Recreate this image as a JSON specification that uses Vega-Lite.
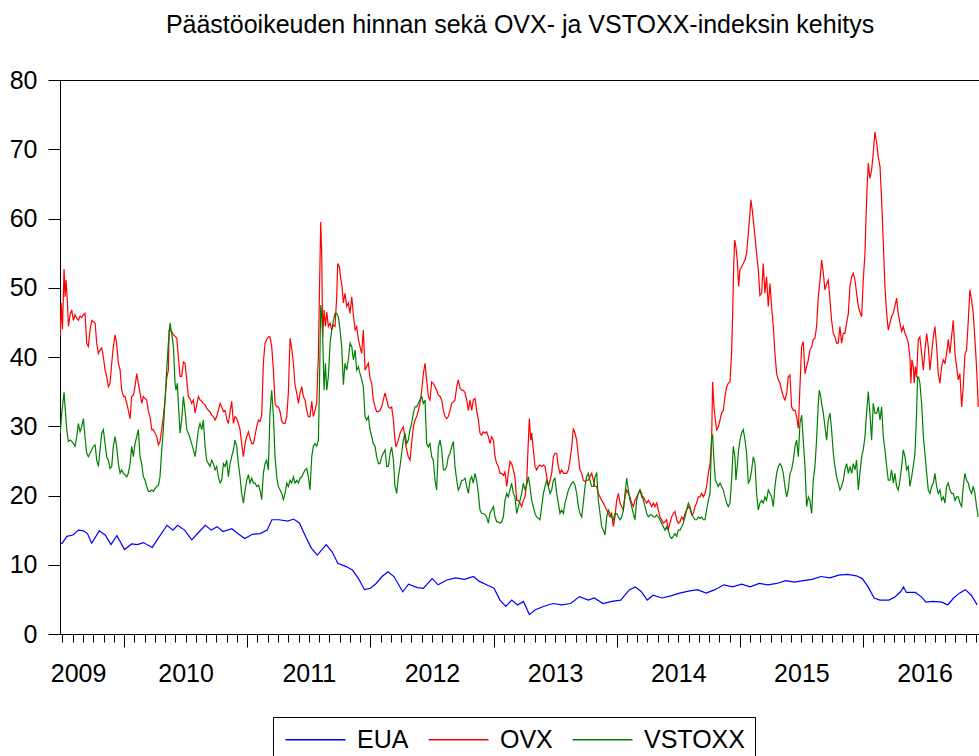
{
  "$schema": "https://vega.github.io/schema/vega-lite/v6.json",
  "width": 920,
  "height": 554,
  "autosize": "none",
  "padding": {"left": 60, "top": 80, "right": 0, "bottom": 122},
  "background": "white",
  "config": {
    "view": {"stroke": "black", "strokeWidth": 1},
    "font": "Liberation Sans",
    "axis": {"labelFont": "Liberation Sans", "labelColor": "black", "tickColor": "black", "domainColor": "black", "grid": false, "tickWidth": 1}
  },
  "title": {"text": "Päästöoikeuden hinnan sekä OVX- ja VSTOXX-indeksin kehitys", "fontSize": 25, "font": "Liberation Sans", "fontWeight": "normal", "color": "black", "anchor": "middle", "frame": "group", "baseline": "alphabetic", "offset": 10},
  "datasets": {
    "eua": [
      {"year":2009.482,"value":13.1},{"year":2009.497,"value":13.1},{"year":2009.536,"value":14.1},{"year":2009.584,"value":14.3},{"year":2009.631,"value":15.0},{"year":2009.670,"value":14.9},{"year":2009.703,"value":14.5},{"year":2009.737,"value":13.1},{"year":2009.799,"value":14.9},{"year":2009.847,"value":14.3},{"year":2009.894,"value":12.9},{"year":2009.942,"value":14.2},{"year":2010.004,"value":12.2},{"year":2010.062,"value":13.0},{"year":2010.110,"value":12.9},{"year":2010.157,"value":13.2},{"year":2010.229,"value":12.5},{"year":2010.277,"value":13.8},{"year":2010.349,"value":15.7},{"year":2010.397,"value":15.0},{"year":2010.435,"value":15.7},{"year":2010.492,"value":15.0},{"year":2010.550,"value":13.6},{"year":2010.612,"value":14.8},{"year":2010.660,"value":15.7},{"year":2010.708,"value":15.0},{"year":2010.756,"value":15.5},{"year":2010.803,"value":14.8},{"year":2010.875,"value":15.2},{"year":2010.923,"value":14.5},{"year":2010.980,"value":13.8},{"year":2011.043,"value":14.4},{"year":2011.105,"value":14.5},{"year":2011.162,"value":15.0},{"year":2011.200,"value":16.5},{"year":2011.258,"value":16.5},{"year":2011.330,"value":16.3},{"year":2011.377,"value":16.6},{"year":2011.425,"value":16.0},{"year":2011.473,"value":14.1},{"year":2011.521,"value":12.4},{"year":2011.569,"value":11.4},{"year":2011.641,"value":12.9},{"year":2011.688,"value":11.9},{"year":2011.736,"value":10.2},{"year":2011.808,"value":9.7},{"year":2011.856,"value":9.2},{"year":2011.904,"value":8.0},{"year":2011.952,"value":6.4},{"year":2012.000,"value":6.6},{"year":2012.047,"value":7.3},{"year":2012.095,"value":8.3},{"year":2012.143,"value":9.0},{"year":2012.191,"value":8.3},{"year":2012.263,"value":6.1},{"year":2012.310,"value":7.2},{"year":2012.382,"value":6.7},{"year":2012.430,"value":6.6},{"year":2012.502,"value":8.0},{"year":2012.550,"value":7.1},{"year":2012.621,"value":7.8},{"year":2012.693,"value":8.1},{"year":2012.765,"value":7.9},{"year":2012.837,"value":8.3},{"year":2012.885,"value":7.6},{"year":2012.956,"value":7.0},{"year":2013.004,"value":6.6},{"year":2013.052,"value":4.9},{"year":2013.100,"value":4.0},{"year":2013.148,"value":4.9},{"year":2013.195,"value":4.2},{"year":2013.243,"value":4.7},{"year":2013.291,"value":2.8},{"year":2013.339,"value":3.5},{"year":2013.411,"value":4.0},{"year":2013.483,"value":4.4},{"year":2013.554,"value":4.2},{"year":2013.626,"value":4.4},{"year":2013.698,"value":5.4},{"year":2013.770,"value":4.9},{"year":2013.818,"value":5.2},{"year":2013.889,"value":4.4},{"year":2013.961,"value":4.7},{"year":2014.033,"value":4.9},{"year":2014.104,"value":6.4},{"year":2014.152,"value":6.8},{"year":2014.200,"value":6.1},{"year":2014.248,"value":4.9},{"year":2014.296,"value":5.6},{"year":2014.368,"value":5.2},{"year":2014.439,"value":5.5},{"year":2014.511,"value":5.9},{"year":2014.583,"value":6.2},{"year":2014.655,"value":6.4},{"year":2014.726,"value":5.9},{"year":2014.798,"value":6.4},{"year":2014.870,"value":7.1},{"year":2014.942,"value":6.8},{"year":2015.013,"value":7.2},{"year":2015.085,"value":6.8},{"year":2015.157,"value":7.3},{"year":2015.229,"value":7.1},{"year":2015.300,"value":7.3},{"year":2015.372,"value":7.7},{"year":2015.444,"value":7.5},{"year":2015.516,"value":7.7},{"year":2015.587,"value":7.9},{"year":2015.659,"value":8.3},{"year":2015.731,"value":8.1},{"year":2015.803,"value":8.5},{"year":2015.874,"value":8.6},{"year":2015.946,"value":8.4},{"year":2015.994,"value":8.0},{"year":2016.042,"value":6.8},{"year":2016.090,"value":5.2},{"year":2016.137,"value":4.9},{"year":2016.209,"value":4.9},{"year":2016.257,"value":5.3},{"year":2016.305,"value":6.1},{"year":2016.329,"value":6.8},{"year":2016.353,"value":6.0},{"year":2016.424,"value":6.0},{"year":2016.472,"value":5.4},{"year":2016.511,"value":4.6},{"year":2016.568,"value":4.7},{"year":2016.640,"value":4.6},{"year":2016.688,"value":4.2},{"year":2016.736,"value":5.2},{"year":2016.783,"value":5.9},{"year":2016.831,"value":6.4},{"year":2016.879,"value":5.6},{"year":2016.927,"value":4.2}
    ],
    "ovx": [
      {"year":2009.482,"value":43.0},{"year":2009.490,"value":47.8},{"year":2009.500,"value":44.0},{"year":2009.513,"value":52.7},{"year":2009.521,"value":48.7},{"year":2009.529,"value":51.1},{"year":2009.540,"value":48.0},{"year":2009.548,"value":44.4},{"year":2009.562,"value":46.1},{"year":2009.575,"value":46.8},{"year":2009.589,"value":45.3},{"year":2009.602,"value":46.1},{"year":2009.616,"value":45.6},{"year":2009.629,"value":45.3},{"year":2009.643,"value":45.9},{"year":2009.656,"value":45.7},{"year":2009.670,"value":46.1},{"year":2009.683,"value":46.3},{"year":2009.697,"value":42.0},{"year":2009.710,"value":41.5},{"year":2009.724,"value":43.9},{"year":2009.738,"value":45.3},{"year":2009.751,"value":45.1},{"year":2009.765,"value":44.9},{"year":2009.778,"value":42.0},{"year":2009.792,"value":40.5},{"year":2009.805,"value":41.0},{"year":2009.819,"value":41.3},{"year":2009.832,"value":40.0},{"year":2009.846,"value":38.1},{"year":2009.859,"value":37.2},{"year":2009.873,"value":35.7},{"year":2009.886,"value":36.2},{"year":2009.900,"value":39.1},{"year":2009.913,"value":41.5},{"year":2009.927,"value":43.2},{"year":2009.940,"value":42.0},{"year":2009.954,"value":39.1},{"year":2009.968,"value":38.1},{"year":2009.981,"value":35.2},{"year":2009.995,"value":34.3},{"year":2010.008,"value":34.3},{"year":2010.022,"value":33.3},{"year":2010.035,"value":32.3},{"year":2010.049,"value":31.1},{"year":2010.062,"value":34.3},{"year":2010.076,"value":34.5},{"year":2010.089,"value":35.7},{"year":2010.103,"value":37.6},{"year":2010.116,"value":36.2},{"year":2010.130,"value":34.8},{"year":2010.143,"value":33.3},{"year":2010.157,"value":34.3},{"year":2010.171,"value":34.0},{"year":2010.184,"value":33.8},{"year":2010.198,"value":32.1},{"year":2010.211,"value":31.4},{"year":2010.225,"value":29.5},{"year":2010.238,"value":29.5},{"year":2010.252,"value":29.0},{"year":2010.265,"value":28.5},{"year":2010.279,"value":27.3},{"year":2010.292,"value":27.8},{"year":2010.306,"value":29.5},{"year":2010.319,"value":31.4},{"year":2010.333,"value":33.8},{"year":2010.346,"value":36.9},{"year":2010.360,"value":38.1},{"year":2010.366,"value":43.9},{"year":2010.387,"value":43.7},{"year":2010.401,"value":43.2},{"year":2010.414,"value":43.0},{"year":2010.428,"value":42.7},{"year":2010.441,"value":40.0},{"year":2010.455,"value":37.2},{"year":2010.468,"value":37.2},{"year":2010.482,"value":39.3},{"year":2010.495,"value":39.1},{"year":2010.509,"value":36.7},{"year":2010.522,"value":34.3},{"year":2010.536,"value":34.0},{"year":2010.549,"value":33.3},{"year":2010.563,"value":33.8},{"year":2010.577,"value":31.9},{"year":2010.590,"value":33.1},{"year":2010.604,"value":34.3},{"year":2010.617,"value":33.8},{"year":2010.631,"value":33.6},{"year":2010.644,"value":33.3},{"year":2010.658,"value":33.1},{"year":2010.671,"value":32.6},{"year":2010.685,"value":32.3},{"year":2010.698,"value":32.1},{"year":2010.712,"value":31.6},{"year":2010.725,"value":31.4},{"year":2010.739,"value":30.9},{"year":2010.752,"value":31.4},{"year":2010.766,"value":32.3},{"year":2010.780,"value":33.3},{"year":2010.793,"value":32.8},{"year":2010.807,"value":32.1},{"year":2010.820,"value":32.3},{"year":2010.834,"value":31.1},{"year":2010.847,"value":30.4},{"year":2010.861,"value":32.1},{"year":2010.874,"value":33.6},{"year":2010.888,"value":30.4},{"year":2010.901,"value":31.4},{"year":2010.915,"value":31.1},{"year":2010.928,"value":30.4},{"year":2010.942,"value":29.5},{"year":2010.955,"value":27.5},{"year":2010.969,"value":25.6},{"year":2010.983,"value":27.5},{"year":2010.996,"value":28.5},{"year":2011.010,"value":29.2},{"year":2011.023,"value":28.3},{"year":2011.037,"value":27.5},{"year":2011.050,"value":27.5},{"year":2011.064,"value":28.7},{"year":2011.077,"value":29.9},{"year":2011.091,"value":30.9},{"year":2011.104,"value":30.7},{"year":2011.118,"value":31.6},{"year":2011.131,"value":39.1},{"year":2011.145,"value":42.0},{"year":2011.158,"value":42.5},{"year":2011.172,"value":42.9},{"year":2011.185,"value":42.9},{"year":2011.199,"value":41.5},{"year":2011.213,"value":38.1},{"year":2011.226,"value":33.3},{"year":2011.240,"value":32.8},{"year":2011.253,"value":32.8},{"year":2011.267,"value":32.1},{"year":2011.280,"value":30.7},{"year":2011.294,"value":30.4},{"year":2011.307,"value":30.4},{"year":2011.321,"value":31.4},{"year":2011.334,"value":34.8},{"year":2011.348,"value":42.7},{"year":2011.361,"value":41.3},{"year":2011.375,"value":39.1},{"year":2011.388,"value":36.0},{"year":2011.402,"value":34.8},{"year":2011.416,"value":33.3},{"year":2011.429,"value":34.8},{"year":2011.443,"value":35.7},{"year":2011.456,"value":34.3},{"year":2011.470,"value":33.8},{"year":2011.483,"value":32.3},{"year":2011.497,"value":31.4},{"year":2011.510,"value":31.4},{"year":2011.524,"value":33.6},{"year":2011.537,"value":31.4},{"year":2011.551,"value":32.3},{"year":2011.564,"value":33.3},{"year":2011.578,"value":40.3},{"year":2011.586,"value":48.7},{"year":2011.597,"value":59.5},{"year":2011.605,"value":55.0},{"year":2011.613,"value":42.9},{"year":2011.624,"value":46.8},{"year":2011.635,"value":44.4},{"year":2011.646,"value":46.5},{"year":2011.659,"value":44.4},{"year":2011.673,"value":44.9},{"year":2011.686,"value":43.9},{"year":2011.700,"value":44.6},{"year":2011.713,"value":44.4},{"year":2011.727,"value":48.7},{"year":2011.735,"value":53.5},{"year":2011.749,"value":53.0},{"year":2011.759,"value":51.4},{"year":2011.770,"value":50.2},{"year":2011.781,"value":47.8},{"year":2011.794,"value":49.2},{"year":2011.808,"value":47.3},{"year":2011.821,"value":47.8},{"year":2011.835,"value":46.3},{"year":2011.849,"value":48.7},{"year":2011.862,"value":46.1},{"year":2011.876,"value":43.9},{"year":2011.889,"value":44.4},{"year":2011.903,"value":42.5},{"year":2011.916,"value":41.5},{"year":2011.930,"value":40.5},{"year":2011.943,"value":43.9},{"year":2011.957,"value":38.1},{"year":2011.970,"value":38.6},{"year":2011.984,"value":39.1},{"year":2011.997,"value":36.9},{"year":2012.011,"value":36.2},{"year":2012.024,"value":33.8},{"year":2012.038,"value":32.8},{"year":2012.051,"value":32.1},{"year":2012.065,"value":32.1},
      {"year":2012.078,"value":32.3},{"year":2012.092,"value":32.8},{"year":2012.105,"value":33.8},{"year":2012.119,"value":34.8},{"year":2012.133,"value":33.8},{"year":2012.146,"value":32.8},{"year":2012.160,"value":32.6},{"year":2012.173,"value":32.8},{"year":2012.187,"value":30.9},{"year":2012.200,"value":28.0},{"year":2012.208,"value":27.0},{"year":2012.227,"value":28.0},{"year":2012.241,"value":29.0},{"year":2012.254,"value":29.5},{"year":2012.268,"value":29.9},{"year":2012.276,"value":29.0},{"year":2012.290,"value":27.0},{"year":2012.308,"value":25.6},{"year":2012.322,"value":25.1},{"year":2012.335,"value":27.5},{"year":2012.349,"value":29.9},{"year":2012.363,"value":30.9},{"year":2012.376,"value":31.4},{"year":2012.390,"value":32.3},{"year":2012.403,"value":33.3},{"year":2012.417,"value":35.2},{"year":2012.430,"value":37.6},{"year":2012.444,"value":39.1},{"year":2012.457,"value":36.7},{"year":2012.471,"value":34.3},{"year":2012.484,"value":33.8},{"year":2012.498,"value":36.4},{"year":2012.511,"value":36.2},{"year":2012.525,"value":35.7},{"year":2012.538,"value":35.2},{"year":2012.552,"value":34.5},{"year":2012.566,"value":34.3},{"year":2012.579,"value":33.8},{"year":2012.593,"value":32.3},{"year":2012.606,"value":31.4},{"year":2012.620,"value":31.1},{"year":2012.633,"value":31.4},{"year":2012.647,"value":32.3},{"year":2012.660,"value":33.3},{"year":2012.674,"value":33.5},{"year":2012.687,"value":33.8},{"year":2012.701,"value":35.7},{"year":2012.714,"value":36.7},{"year":2012.728,"value":35.5},{"year":2012.741,"value":35.2},{"year":2012.755,"value":35.2},{"year":2012.769,"value":34.8},{"year":2012.782,"value":33.8},{"year":2012.796,"value":32.3},{"year":2012.809,"value":33.8},{"year":2012.823,"value":32.3},{"year":2012.836,"value":33.8},{"year":2012.850,"value":34.0},{"year":2012.863,"value":32.3},{"year":2012.877,"value":30.9},{"year":2012.890,"value":29.0},{"year":2012.904,"value":28.7},{"year":2012.917,"value":29.2},{"year":2012.931,"value":29.0},{"year":2012.944,"value":29.2},{"year":2012.958,"value":28.5},{"year":2012.971,"value":27.5},{"year":2012.985,"value":28.5},{"year":2012.999,"value":28.0},{"year":2013.012,"value":25.6},{"year":2013.026,"value":24.6},{"year":2013.039,"value":24.2},{"year":2013.053,"value":23.2},{"year":2013.066,"value":23.2},{"year":2013.080,"value":22.9},{"year":2013.093,"value":23.4},{"year":2013.107,"value":21.3},{"year":2013.120,"value":23.2},{"year":2013.134,"value":24.9},{"year":2013.147,"value":24.6},{"year":2013.161,"value":23.7},{"year":2013.174,"value":22.7},{"year":2013.188,"value":19.3},{"year":2013.202,"value":19.3},{"year":2013.215,"value":18.9},{"year":2013.229,"value":18.4},{"year":2013.242,"value":19.3},{"year":2013.256,"value":19.8},{"year":2013.269,"value":21.8},{"year":2013.283,"value":28.0},{"year":2013.291,"value":31.1},{"year":2013.302,"value":28.0},{"year":2013.310,"value":29.0},{"year":2013.323,"value":26.6},{"year":2013.337,"value":24.2},{"year":2013.350,"value":23.7},{"year":2013.364,"value":24.2},{"year":2013.377,"value":24.4},{"year":2013.391,"value":24.2},{"year":2013.405,"value":24.4},{"year":2013.418,"value":24.2},{"year":2013.432,"value":22.7},{"year":2013.445,"value":21.3},{"year":2013.459,"value":22.2},{"year":2013.472,"value":23.2},{"year":2013.486,"value":25.6},{"year":2013.499,"value":26.1},{"year":2013.513,"value":26.1},{"year":2013.526,"value":24.2},{"year":2013.540,"value":23.2},{"year":2013.553,"value":23.7},{"year":2013.567,"value":23.2},{"year":2013.580,"value":23.2},{"year":2013.594,"value":23.2},{"year":2013.608,"value":23.7},{"year":2013.621,"value":25.1},{"year":2013.635,"value":27.0},{"year":2013.648,"value":29.7},{"year":2013.662,"value":29.0},{"year":2013.675,"value":28.0},{"year":2013.689,"value":25.6},{"year":2013.702,"value":23.7},{"year":2013.716,"value":23.2},{"year":2013.729,"value":22.2},{"year":2013.743,"value":22.0},{"year":2013.756,"value":22.2},{"year":2013.770,"value":22.2},{"year":2013.783,"value":22.7},{"year":2013.797,"value":23.2},{"year":2013.811,"value":22.2},{"year":2013.824,"value":21.3},{"year":2013.838,"value":21.3},{"year":2013.851,"value":20.3},{"year":2013.865,"value":19.8},{"year":2013.878,"value":19.3},{"year":2013.892,"value":18.9},{"year":2013.905,"value":18.4},{"year":2013.919,"value":17.9},{"year":2013.932,"value":17.4},{"year":2013.946,"value":16.9},{"year":2013.959,"value":17.4},{"year":2013.973,"value":15.5},{"year":2013.986,"value":16.9},{"year":2014.000,"value":19.3},{"year":2014.014,"value":20.3},{"year":2014.027,"value":18.9},{"year":2014.041,"value":18.4},{"year":2014.054,"value":17.9},{"year":2014.068,"value":19.8},{"year":2014.081,"value":20.8},{"year":2014.095,"value":20.3},{"year":2014.108,"value":19.8},{"year":2014.122,"value":18.9},{"year":2014.135,"value":18.4},{"year":2014.149,"value":19.3},{"year":2014.162,"value":19.8},{"year":2014.176,"value":20.3},{"year":2014.189,"value":20.8},{"year":2014.203,"value":19.8},{"year":2014.216,"value":19.8},{"year":2014.230,"value":19.3},{"year":2014.244,"value":18.9},{"year":2014.257,"value":19.3},{"year":2014.271,"value":18.9},{"year":2014.284,"value":18.4},{"year":2014.298,"value":18.9},{"year":2014.311,"value":18.4},{"year":2014.325,"value":18.9},{"year":2014.338,"value":17.9},{"year":2014.352,"value":16.9},{"year":2014.365,"value":16.5},{"year":2014.379,"value":16.0},{"year":2014.392,"value":16.2},{"year":2014.406,"value":16.5},{"year":2014.419,"value":15.0},{"year":2014.433,"value":16.0},{"year":2014.446,"value":16.9},{"year":2014.460,"value":17.4},{"year":2014.473,"value":17.7},{"year":2014.487,"value":16.5},{"year":2014.501,"value":16.0},{"year":2014.514,"value":16.2},{"year":2014.528,"value":16.9},{"year":2014.541,"value":16.5},{"year":2014.555,"value":17.4},{"year":2014.568,"value":17.9},{"year":2014.582,"value":18.4},{"year":2014.595,"value":18.1},{"year":2014.609,"value":17.2},{"year":2014.622,"value":17.4},{"year":2014.636,"value":18.4},{"year":2014.649,"value":18.9},{"year":2014.663,"value":19.8},{"year":2014.676,"value":19.8},{"year":2014.690,"value":20.3},{"year":2014.703,"value":19.8},{"year":2014.717,"value":20.3},{"year":2014.730,"value":21.3},{"year":2014.744,"value":23.2},{"year":2014.758,"value":24.6},
      {"year":2014.771,"value":28.0},{"year":2014.779,"value":36.4},{"year":2014.790,"value":32.8},{"year":2014.801,"value":30.9},{"year":2014.812,"value":29.5},{"year":2014.825,"value":29.9},{"year":2014.839,"value":30.9},{"year":2014.852,"value":31.9},{"year":2014.866,"value":32.3},{"year":2014.879,"value":34.3},{"year":2014.893,"value":35.7},{"year":2014.906,"value":36.2},{"year":2014.920,"value":36.4},{"year":2014.933,"value":40.5},{"year":2014.941,"value":45.8},{"year":2014.950,"value":53.0},{"year":2014.958,"value":56.9},{"year":2014.968,"value":55.9},{"year":2014.979,"value":54.0},{"year":2014.990,"value":50.2},{"year":2015.001,"value":52.6},{"year":2015.014,"value":53.0},{"year":2015.028,"value":53.5},{"year":2015.042,"value":54.0},{"year":2015.055,"value":55.0},{"year":2015.069,"value":57.9},{"year":2015.082,"value":60.7},{"year":2015.090,"value":62.7},{"year":2015.101,"value":61.2},{"year":2015.109,"value":59.8},{"year":2015.123,"value":57.4},{"year":2015.136,"value":55.0},{"year":2015.150,"value":52.6},{"year":2015.163,"value":48.9},{"year":2015.177,"value":49.2},{"year":2015.190,"value":53.5},{"year":2015.204,"value":49.2},{"year":2015.217,"value":51.6},{"year":2015.231,"value":47.3},{"year":2015.245,"value":50.6},{"year":2015.258,"value":47.3},{"year":2015.272,"value":44.4},{"year":2015.285,"value":40.5},{"year":2015.299,"value":37.6},{"year":2015.312,"value":36.7},{"year":2015.326,"value":36.2},{"year":2015.339,"value":35.2},{"year":2015.353,"value":34.3},{"year":2015.366,"value":33.8},{"year":2015.380,"value":34.7},{"year":2015.393,"value":37.1},{"year":2015.407,"value":37.4},{"year":2015.420,"value":32.8},{"year":2015.434,"value":32.3},{"year":2015.448,"value":32.3},{"year":2015.461,"value":31.4},{"year":2015.475,"value":29.7},{"year":2015.488,"value":35.7},{"year":2015.502,"value":41.5},{"year":2015.515,"value":42.2},{"year":2015.529,"value":37.6},{"year":2015.542,"value":38.6},{"year":2015.556,"value":39.6},{"year":2015.569,"value":41.0},{"year":2015.583,"value":41.5},{"year":2015.596,"value":42.5},{"year":2015.610,"value":42.7},{"year":2015.623,"value":44.4},{"year":2015.637,"value":48.7},{"year":2015.651,"value":51.1},{"year":2015.664,"value":54.0},{"year":2015.678,"value":52.1},{"year":2015.691,"value":49.7},{"year":2015.705,"value":50.6},{"year":2015.718,"value":51.1},{"year":2015.732,"value":48.2},{"year":2015.745,"value":45.3},{"year":2015.759,"value":43.4},{"year":2015.772,"value":42.9},{"year":2015.786,"value":42.0},{"year":2015.799,"value":42.0},{"year":2015.813,"value":44.4},{"year":2015.826,"value":42.0},{"year":2015.840,"value":43.4},{"year":2015.853,"value":43.4},{"year":2015.867,"value":44.9},{"year":2015.881,"value":46.3},{"year":2015.894,"value":50.2},{"year":2015.908,"value":51.6},{"year":2015.921,"value":52.1},{"year":2015.935,"value":51.1},{"year":2015.948,"value":49.2},{"year":2015.962,"value":47.3},{"year":2015.975,"value":46.5},{"year":2015.989,"value":45.8},{"year":2016.002,"value":51.1},{"year":2016.016,"value":55.0},{"year":2016.024,"value":59.8},{"year":2016.032,"value":64.1},{"year":2016.043,"value":68.0},{"year":2016.056,"value":65.8},{"year":2016.070,"value":67.0},{"year":2016.083,"value":69.4},{"year":2016.097,"value":72.5},{"year":2016.111,"value":70.9},{"year":2016.124,"value":68.9},{"year":2016.138,"value":67.5},{"year":2016.151,"value":62.7},{"year":2016.165,"value":56.4},{"year":2016.178,"value":50.2},{"year":2016.192,"value":46.3},{"year":2016.205,"value":43.9},{"year":2016.219,"value":44.9},{"year":2016.232,"value":45.8},{"year":2016.246,"value":46.3},{"year":2016.259,"value":47.3},{"year":2016.273,"value":48.5},{"year":2016.286,"value":46.3},{"year":2016.300,"value":44.9},{"year":2016.314,"value":43.7},{"year":2016.327,"value":44.4},{"year":2016.341,"value":43.4},{"year":2016.354,"value":42.9},{"year":2016.368,"value":42.0},{"year":2016.381,"value":40.0},{"year":2016.389,"value":36.2},{"year":2016.397,"value":39.6},{"year":2016.408,"value":38.6},{"year":2016.416,"value":36.2},{"year":2016.425,"value":38.6},{"year":2016.435,"value":37.1},{"year":2016.449,"value":42.5},{"year":2016.462,"value":42.9},{"year":2016.476,"value":40.5},{"year":2016.490,"value":38.1},{"year":2016.503,"value":41.0},{"year":2016.517,"value":43.4},{"year":2016.530,"value":41.5},{"year":2016.544,"value":38.1},{"year":2016.557,"value":40.5},{"year":2016.571,"value":42.9},{"year":2016.584,"value":44.4},{"year":2016.598,"value":41.5},{"year":2016.611,"value":37.6},{"year":2016.625,"value":36.2},{"year":2016.638,"value":38.6},{"year":2016.652,"value":39.6},{"year":2016.665,"value":39.1},{"year":2016.679,"value":40.5},{"year":2016.692,"value":42.5},{"year":2016.706,"value":40.5},{"year":2016.719,"value":42.9},{"year":2016.733,"value":45.3},{"year":2016.747,"value":40.5},{"year":2016.760,"value":38.6},{"year":2016.774,"value":36.7},{"year":2016.787,"value":37.6},{"year":2016.801,"value":32.8},{"year":2016.814,"value":35.7},{"year":2016.828,"value":40.5},{"year":2016.841,"value":41.0},{"year":2016.855,"value":45.3},{"year":2016.868,"value":49.7},{"year":2016.882,"value":48.2},{"year":2016.895,"value":46.3},{"year":2016.909,"value":42.5},{"year":2016.922,"value":38.6},{"year":2016.936,"value":32.8}
    ],
    "vstoxx": [
      {"year":2009.482,"value":29.0},{"year":2009.494,"value":31.9},{"year":2009.513,"value":34.9},{"year":2009.521,"value":32.8},{"year":2009.535,"value":29.5},{"year":2009.548,"value":27.8},{"year":2009.562,"value":28.0},{"year":2009.575,"value":27.8},{"year":2009.589,"value":27.5},{"year":2009.602,"value":27.1},{"year":2009.616,"value":28.5},{"year":2009.629,"value":30.4},{"year":2009.643,"value":29.2},{"year":2009.656,"value":29.9},{"year":2009.670,"value":31.1},{"year":2009.683,"value":28.5},{"year":2009.697,"value":26.1},{"year":2009.710,"value":25.6},{"year":2009.724,"value":26.1},{"year":2009.738,"value":26.6},{"year":2009.751,"value":27.1},{"year":2009.765,"value":27.3},{"year":2009.778,"value":25.1},{"year":2009.792,"value":24.2},{"year":2009.805,"value":26.6},{"year":2009.819,"value":29.0},{"year":2009.832,"value":29.5},{"year":2009.846,"value":27.5},{"year":2009.859,"value":25.6},{"year":2009.873,"value":25.1},{"year":2009.886,"value":23.9},{"year":2009.900,"value":24.2},{"year":2009.913,"value":27.1},{"year":2009.927,"value":28.5},{"year":2009.940,"value":27.1},{"year":2009.954,"value":24.6},{"year":2009.968,"value":23.2},{"year":2009.981,"value":23.7},{"year":2009.995,"value":23.2},{"year":2010.008,"value":23.0},{"year":2010.022,"value":22.7},{"year":2010.035,"value":23.2},{"year":2010.049,"value":24.6},{"year":2010.062,"value":27.1},{"year":2010.076,"value":25.6},{"year":2010.089,"value":27.5},{"year":2010.103,"value":28.5},{"year":2010.116,"value":29.5},{"year":2010.130,"value":25.6},{"year":2010.143,"value":24.6},{"year":2010.157,"value":22.7},{"year":2010.171,"value":22.2},{"year":2010.184,"value":21.3},{"year":2010.198,"value":20.6},{"year":2010.211,"value":20.6},{"year":2010.225,"value":20.8},{"year":2010.238,"value":20.6},{"year":2010.252,"value":21.0},{"year":2010.265,"value":21.3},{"year":2010.279,"value":21.5},{"year":2010.292,"value":22.7},{"year":2010.306,"value":26.6},{"year":2010.319,"value":29.5},{"year":2010.333,"value":33.8},{"year":2010.346,"value":38.1},{"year":2010.360,"value":42.0},{"year":2010.374,"value":44.9},{"year":2010.387,"value":43.4},{"year":2010.401,"value":41.5},{"year":2010.414,"value":36.2},{"year":2010.422,"value":35.2},{"year":2010.433,"value":36.2},{"year":2010.441,"value":33.3},{"year":2010.455,"value":29.0},{"year":2010.468,"value":30.9},{"year":2010.482,"value":34.3},{"year":2010.495,"value":32.3},{"year":2010.509,"value":29.5},{"year":2010.522,"value":29.0},{"year":2010.536,"value":28.3},{"year":2010.549,"value":27.5},{"year":2010.563,"value":26.6},{"year":2010.577,"value":25.6},{"year":2010.590,"value":27.5},{"year":2010.604,"value":29.5},{"year":2010.617,"value":30.4},{"year":2010.631,"value":29.5},{"year":2010.644,"value":30.9},{"year":2010.658,"value":27.1},{"year":2010.671,"value":25.1},{"year":2010.685,"value":24.6},{"year":2010.698,"value":24.2},{"year":2010.712,"value":25.1},{"year":2010.725,"value":24.6},{"year":2010.739,"value":23.7},{"year":2010.752,"value":24.2},{"year":2010.766,"value":22.7},{"year":2010.780,"value":21.8},{"year":2010.793,"value":22.2},{"year":2010.807,"value":24.6},{"year":2010.820,"value":24.2},{"year":2010.834,"value":25.1},{"year":2010.847,"value":22.7},{"year":2010.861,"value":24.6},{"year":2010.874,"value":25.6},{"year":2010.888,"value":26.6},{"year":2010.901,"value":28.0},{"year":2010.915,"value":27.1},{"year":2010.928,"value":24.6},{"year":2010.942,"value":22.7},{"year":2010.955,"value":20.3},{"year":2010.969,"value":18.9},{"year":2010.983,"value":20.8},{"year":2010.996,"value":22.2},{"year":2011.010,"value":23.0},{"year":2011.023,"value":21.8},{"year":2011.037,"value":22.5},{"year":2011.050,"value":21.8},{"year":2011.064,"value":21.8},{"year":2011.077,"value":21.3},{"year":2011.091,"value":21.5},{"year":2011.104,"value":20.8},{"year":2011.118,"value":19.4},{"year":2011.131,"value":23.2},{"year":2011.145,"value":24.6},{"year":2011.158,"value":25.1},{"year":2011.172,"value":23.7},{"year":2011.185,"value":31.9},{"year":2011.199,"value":35.2},{"year":2011.213,"value":31.4},{"year":2011.226,"value":25.6},{"year":2011.240,"value":22.7},{"year":2011.253,"value":21.3},{"year":2011.267,"value":20.8},{"year":2011.280,"value":20.3},{"year":2011.294,"value":19.4},{"year":2011.307,"value":20.3},{"year":2011.321,"value":21.8},{"year":2011.334,"value":21.3},{"year":2011.348,"value":22.2},{"year":2011.361,"value":21.8},{"year":2011.375,"value":22.7},{"year":2011.388,"value":21.8},{"year":2011.402,"value":22.2},{"year":2011.416,"value":21.8},{"year":2011.429,"value":22.5},{"year":2011.443,"value":22.7},{"year":2011.456,"value":23.2},{"year":2011.470,"value":23.7},{"year":2011.483,"value":23.9},{"year":2011.497,"value":22.7},{"year":2011.510,"value":20.8},{"year":2011.524,"value":25.6},{"year":2011.537,"value":27.1},{"year":2011.551,"value":27.5},{"year":2011.564,"value":27.1},{"year":2011.578,"value":28.0},{"year":2011.586,"value":35.2},{"year":2011.597,"value":47.5},{"year":2011.605,"value":46.0},{"year":2011.613,"value":42.9},{"year":2011.624,"value":35.2},{"year":2011.635,"value":39.1},{"year":2011.646,"value":35.2},{"year":2011.659,"value":37.2},{"year":2011.673,"value":42.0},{"year":2011.686,"value":43.9},{"year":2011.700,"value":45.3},{"year":2011.713,"value":46.3},{"year":2011.727,"value":46.3},{"year":2011.740,"value":45.8},{"year":2011.754,"value":43.9},{"year":2011.767,"value":41.5},{"year":2011.781,"value":36.0},{"year":2011.794,"value":39.1},{"year":2011.808,"value":38.1},{"year":2011.821,"value":39.6},{"year":2011.835,"value":42.0},{"year":2011.849,"value":41.5},{"year":2011.862,"value":39.6},{"year":2011.876,"value":41.0},{"year":2011.889,"value":38.1},{"year":2011.903,"value":38.6},{"year":2011.916,"value":37.6},{"year":2011.930,"value":36.7},{"year":2011.943,"value":35.7},{"year":2011.957,"value":31.4},{"year":2011.970,"value":30.9},{"year":2011.984,"value":31.4},{"year":2011.997,"value":29.5},{"year":2012.011,"value":28.5},{"year":2012.024,"value":27.5},{"year":2012.038,"value":27.1},{"year":2012.051,"value":25.6},{"year":2012.065,"value":24.6},
      {"year":2012.078,"value":24.6},{"year":2012.092,"value":25.6},{"year":2012.105,"value":26.1},{"year":2012.119,"value":26.6},{"year":2012.133,"value":24.2},{"year":2012.146,"value":24.2},{"year":2012.160,"value":26.1},{"year":2012.173,"value":27.0},{"year":2012.187,"value":25.1},{"year":2012.200,"value":21.3},{"year":2012.214,"value":20.3},{"year":2012.227,"value":22.7},{"year":2012.241,"value":24.2},{"year":2012.254,"value":26.1},{"year":2012.268,"value":28.0},{"year":2012.281,"value":29.0},{"year":2012.295,"value":27.5},{"year":2012.308,"value":28.0},{"year":2012.322,"value":29.5},{"year":2012.335,"value":30.4},{"year":2012.349,"value":31.9},{"year":2012.363,"value":32.8},{"year":2012.376,"value":32.8},{"year":2012.390,"value":33.3},{"year":2012.403,"value":33.8},{"year":2012.417,"value":34.3},{"year":2012.430,"value":33.3},{"year":2012.444,"value":33.8},{"year":2012.457,"value":27.5},{"year":2012.471,"value":27.0},{"year":2012.484,"value":27.5},{"year":2012.498,"value":25.6},{"year":2012.511,"value":25.1},{"year":2012.525,"value":22.2},{"year":2012.538,"value":20.8},{"year":2012.552,"value":27.0},{"year":2012.566,"value":28.0},{"year":2012.579,"value":26.6},{"year":2012.593,"value":23.7},{"year":2012.606,"value":23.7},{"year":2012.620,"value":24.2},{"year":2012.633,"value":25.6},{"year":2012.647,"value":26.1},{"year":2012.660,"value":27.0},{"year":2012.674,"value":27.8},{"year":2012.687,"value":24.2},{"year":2012.701,"value":22.2},{"year":2012.714,"value":20.8},{"year":2012.728,"value":21.3},{"year":2012.741,"value":22.2},{"year":2012.755,"value":22.2},{"year":2012.769,"value":22.5},{"year":2012.782,"value":21.3},{"year":2012.796,"value":20.3},{"year":2012.809,"value":22.2},{"year":2012.823,"value":22.7},{"year":2012.836,"value":21.8},{"year":2012.850,"value":23.2},{"year":2012.863,"value":22.2},{"year":2012.877,"value":20.3},{"year":2012.890,"value":17.9},{"year":2012.904,"value":17.4},{"year":2012.917,"value":17.4},{"year":2012.931,"value":17.2},{"year":2012.944,"value":16.9},{"year":2012.958,"value":16.0},{"year":2012.971,"value":17.4},{"year":2012.985,"value":17.9},{"year":2012.999,"value":18.4},{"year":2013.012,"value":16.9},{"year":2013.026,"value":16.2},{"year":2013.039,"value":16.2},{"year":2013.053,"value":16.0},{"year":2013.066,"value":16.2},{"year":2013.080,"value":16.9},{"year":2013.093,"value":19.3},{"year":2013.107,"value":20.3},{"year":2013.120,"value":19.8},{"year":2013.134,"value":20.8},{"year":2013.147,"value":21.8},{"year":2013.161,"value":20.3},{"year":2013.174,"value":19.8},{"year":2013.188,"value":17.4},{"year":2013.202,"value":18.4},{"year":2013.215,"value":19.3},{"year":2013.229,"value":20.3},{"year":2013.242,"value":21.8},{"year":2013.256,"value":20.8},{"year":2013.269,"value":21.5},{"year":2013.283,"value":22.7},{"year":2013.296,"value":21.3},{"year":2013.310,"value":19.3},{"year":2013.323,"value":18.4},{"year":2013.337,"value":17.4},{"year":2013.350,"value":16.9},{"year":2013.364,"value":16.7},{"year":2013.377,"value":16.5},{"year":2013.391,"value":18.4},{"year":2013.405,"value":20.3},{"year":2013.418,"value":21.3},{"year":2013.432,"value":22.2},{"year":2013.445,"value":21.3},{"year":2013.459,"value":20.3},{"year":2013.472,"value":20.8},{"year":2013.486,"value":22.2},{"year":2013.499,"value":22.5},{"year":2013.513,"value":20.3},{"year":2013.526,"value":18.9},{"year":2013.540,"value":17.4},{"year":2013.553,"value":17.9},{"year":2013.567,"value":17.4},{"year":2013.580,"value":18.9},{"year":2013.594,"value":19.8},{"year":2013.608,"value":20.8},{"year":2013.621,"value":21.3},{"year":2013.635,"value":21.8},{"year":2013.648,"value":22.0},{"year":2013.662,"value":21.5},{"year":2013.675,"value":20.3},{"year":2013.689,"value":18.4},{"year":2013.702,"value":17.4},{"year":2013.716,"value":16.9},{"year":2013.729,"value":18.9},{"year":2013.743,"value":21.3},{"year":2013.756,"value":22.7},{"year":2013.770,"value":23.2},{"year":2013.783,"value":22.2},{"year":2013.797,"value":21.3},{"year":2013.811,"value":21.3},{"year":2013.824,"value":22.7},{"year":2013.838,"value":23.2},{"year":2013.851,"value":19.3},{"year":2013.865,"value":17.4},{"year":2013.878,"value":15.5},{"year":2013.892,"value":15.0},{"year":2013.905,"value":14.3},{"year":2013.919,"value":16.9},{"year":2013.932,"value":17.9},{"year":2013.946,"value":17.4},{"year":2013.959,"value":16.9},{"year":2013.973,"value":16.5},{"year":2013.986,"value":17.4},{"year":2014.000,"value":17.4},{"year":2014.014,"value":16.9},{"year":2014.027,"value":16.5},{"year":2014.041,"value":16.9},{"year":2014.054,"value":17.9},{"year":2014.068,"value":20.3},{"year":2014.081,"value":22.5},{"year":2014.095,"value":20.8},{"year":2014.108,"value":19.3},{"year":2014.122,"value":18.4},{"year":2014.135,"value":17.4},{"year":2014.149,"value":16.5},{"year":2014.162,"value":19.3},{"year":2014.176,"value":20.3},{"year":2014.189,"value":20.8},{"year":2014.203,"value":20.3},{"year":2014.216,"value":19.3},{"year":2014.230,"value":18.4},{"year":2014.244,"value":17.4},{"year":2014.257,"value":16.9},{"year":2014.271,"value":17.2},{"year":2014.284,"value":17.2},{"year":2014.298,"value":16.9},{"year":2014.311,"value":16.9},{"year":2014.325,"value":17.2},{"year":2014.338,"value":16.9},{"year":2014.352,"value":16.5},{"year":2014.365,"value":16.0},{"year":2014.379,"value":15.5},{"year":2014.392,"value":15.0},{"year":2014.406,"value":15.5},{"year":2014.419,"value":15.0},{"year":2014.433,"value":14.1},{"year":2014.446,"value":13.8},{"year":2014.460,"value":14.1},{"year":2014.473,"value":14.5},{"year":2014.487,"value":14.1},{"year":2014.501,"value":15.0},{"year":2014.514,"value":15.0},{"year":2014.528,"value":15.5},{"year":2014.541,"value":16.0},{"year":2014.555,"value":16.9},{"year":2014.568,"value":17.9},{"year":2014.582,"value":18.9},{"year":2014.595,"value":18.4},{"year":2014.609,"value":17.4},{"year":2014.622,"value":16.9},{"year":2014.636,"value":16.5},{"year":2014.649,"value":16.5},{"year":2014.663,"value":16.9},{"year":2014.676,"value":16.7},{"year":2014.690,"value":16.9},{"year":2014.703,"value":16.5},{"year":2014.717,"value":16.5},{"year":2014.730,"value":17.9},{"year":2014.744,"value":19.3},{"year":2014.758,"value":20.3},
      {"year":2014.771,"value":28.5},{"year":2014.779,"value":28.7},{"year":2014.790,"value":25.1},{"year":2014.801,"value":22.2},{"year":2014.812,"value":21.8},{"year":2014.825,"value":21.3},{"year":2014.839,"value":21.8},{"year":2014.852,"value":21.3},{"year":2014.866,"value":20.8},{"year":2014.879,"value":19.8},{"year":2014.893,"value":18.9},{"year":2014.906,"value":18.4},{"year":2014.920,"value":18.9},{"year":2014.933,"value":22.2},{"year":2014.947,"value":27.1},{"year":2014.960,"value":25.6},{"year":2014.968,"value":22.2},{"year":2014.979,"value":24.2},{"year":2014.990,"value":26.6},{"year":2015.001,"value":28.0},{"year":2015.014,"value":29.0},{"year":2015.028,"value":29.5},{"year":2015.042,"value":28.0},{"year":2015.055,"value":26.1},{"year":2015.069,"value":21.8},{"year":2015.082,"value":22.2},{"year":2015.096,"value":23.7},{"year":2015.109,"value":25.6},{"year":2015.123,"value":24.6},{"year":2015.136,"value":20.3},{"year":2015.150,"value":17.9},{"year":2015.163,"value":18.9},{"year":2015.177,"value":19.3},{"year":2015.190,"value":18.9},{"year":2015.204,"value":19.8},{"year":2015.217,"value":19.3},{"year":2015.231,"value":20.8},{"year":2015.245,"value":20.3},{"year":2015.258,"value":19.8},{"year":2015.272,"value":18.4},{"year":2015.285,"value":21.3},{"year":2015.299,"value":23.2},{"year":2015.312,"value":24.2},{"year":2015.326,"value":24.6},{"year":2015.339,"value":24.2},{"year":2015.353,"value":23.2},{"year":2015.366,"value":21.3},{"year":2015.380,"value":19.8},{"year":2015.393,"value":20.8},{"year":2015.407,"value":23.2},{"year":2015.420,"value":23.7},{"year":2015.434,"value":25.1},{"year":2015.448,"value":27.1},{"year":2015.461,"value":28.0},{"year":2015.475,"value":25.6},{"year":2015.488,"value":30.4},{"year":2015.502,"value":31.6},{"year":2015.515,"value":28.0},{"year":2015.529,"value":24.2},{"year":2015.542,"value":18.4},{"year":2015.556,"value":19.8},{"year":2015.569,"value":19.3},{"year":2015.583,"value":17.4},{"year":2015.596,"value":22.2},{"year":2015.610,"value":24.2},{"year":2015.623,"value":28.0},{"year":2015.637,"value":33.3},{"year":2015.645,"value":35.2},{"year":2015.656,"value":34.3},{"year":2015.664,"value":33.3},{"year":2015.678,"value":31.9},{"year":2015.691,"value":29.9},{"year":2015.705,"value":28.0},{"year":2015.718,"value":30.9},{"year":2015.732,"value":31.9},{"year":2015.745,"value":29.5},{"year":2015.759,"value":26.1},{"year":2015.772,"value":24.2},{"year":2015.786,"value":22.7},{"year":2015.799,"value":21.8},{"year":2015.813,"value":20.8},{"year":2015.826,"value":21.3},{"year":2015.840,"value":22.2},{"year":2015.853,"value":23.7},{"year":2015.867,"value":24.6},{"year":2015.881,"value":23.2},{"year":2015.894,"value":24.2},{"year":2015.908,"value":23.2},{"year":2015.921,"value":24.6},{"year":2015.935,"value":23.7},{"year":2015.948,"value":25.1},{"year":2015.962,"value":20.8},{"year":2015.975,"value":23.2},{"year":2015.989,"value":25.6},{"year":2016.002,"value":26.6},{"year":2016.016,"value":28.5},{"year":2016.029,"value":31.9},{"year":2016.043,"value":35.0},{"year":2016.056,"value":31.9},{"year":2016.070,"value":28.0},{"year":2016.083,"value":33.3},{"year":2016.097,"value":31.9},{"year":2016.111,"value":31.9},{"year":2016.124,"value":32.8},{"year":2016.138,"value":30.9},{"year":2016.151,"value":32.8},{"year":2016.165,"value":28.5},{"year":2016.178,"value":26.6},{"year":2016.192,"value":24.2},{"year":2016.205,"value":22.2},{"year":2016.219,"value":22.2},{"year":2016.232,"value":23.7},{"year":2016.246,"value":21.8},{"year":2016.259,"value":23.2},{"year":2016.273,"value":21.3},{"year":2016.286,"value":20.8},{"year":2016.300,"value":22.2},{"year":2016.314,"value":24.2},{"year":2016.327,"value":26.6},{"year":2016.341,"value":25.6},{"year":2016.354,"value":23.7},{"year":2016.368,"value":24.2},{"year":2016.381,"value":21.3},{"year":2016.395,"value":22.7},{"year":2016.408,"value":24.2},{"year":2016.422,"value":26.1},{"year":2016.435,"value":31.9},{"year":2016.443,"value":37.1},{"year":2016.452,"value":37.1},{"year":2016.462,"value":36.2},{"year":2016.476,"value":33.3},{"year":2016.490,"value":28.5},{"year":2016.503,"value":26.1},{"year":2016.517,"value":23.2},{"year":2016.530,"value":20.8},{"year":2016.544,"value":20.3},{"year":2016.557,"value":21.3},{"year":2016.571,"value":21.8},{"year":2016.584,"value":23.2},{"year":2016.598,"value":21.3},{"year":2016.611,"value":20.3},{"year":2016.625,"value":20.8},{"year":2016.638,"value":19.3},{"year":2016.652,"value":19.8},{"year":2016.665,"value":18.9},{"year":2016.679,"value":21.3},{"year":2016.692,"value":21.8},{"year":2016.706,"value":20.8},{"year":2016.719,"value":20.3},{"year":2016.733,"value":20.3},{"year":2016.747,"value":19.3},{"year":2016.760,"value":19.8},{"year":2016.774,"value":19.8},{"year":2016.787,"value":18.9},{"year":2016.801,"value":18.4},{"year":2016.814,"value":21.3},{"year":2016.828,"value":23.2},{"year":2016.841,"value":22.2},{"year":2016.855,"value":21.8},{"year":2016.868,"value":20.8},{"year":2016.882,"value":20.3},{"year":2016.895,"value":21.3},{"year":2016.909,"value":20.3},{"year":2016.922,"value":18.4},{"year":2016.936,"value":16.9}
    ]
  },
  "layer": [
    {
      "data": {"name": "eua"},
      "mark": {"type": "line", "strokeWidth": 1.2, "clip": true},
      "encoding": {
        "x": {"field": "year", "type": "quantitative", "scale": {"domain": [2009.48, 2016.95], "nice": false, "zero": false},
          "axis": {"orient": "bottom", "title": null, "values": [2009.627, 2010.5, 2011.5, 2012.5, 2013.5, 2014.5, 2015.5, 2016.5], "labelExpr": "'' + floor(datum.value)", "ticks": false, "tickSize": 0, "domain": false, "labelFontSize": 25, "labelPadding": 27, "labelOverlap": false, "labelFlush": false, "labelBound": false, "grid": false}},
        "y": {"field": "value", "type": "quantitative", "scale": {"domain": [0, 80], "nice": false},
          "axis": {"title": null, "values": [0, 10, 20, 30, 40, 50, 60, 70, 80], "tickSize": 12, "labelPadding": 11, "labelFontSize": 25, "domain": false, "grid": false, "labelFlush": false, "labelOverlap": false}},
        "color": {"datum": "EUA", "type": "nominal",
          "scale": {"domain": ["EUA", "OVX", "VSTOXX"], "range": ["#0000ff", "#ff0000", "#008000"]},
          "legend": {"orient": "none", "legendX": 213, "legendY": 637, "direction": "horizontal", "title": null, "strokeColor": "black", "padding": 10, "symbolType": "M-5,0L5,0", "symbolSize": 144, "symbolOffset": 20, "symbolStrokeWidth": 1.5, "labelFontSize": 25, "labelFont": "Liberation Sans", "labelColor": "black", "labelOffset": 29, "columnPadding": 16}}
      }
    },
    {
      "data": {"name": "ovx"},
      "mark": {"type": "line", "strokeWidth": 1.2, "clip": true},
      "encoding": {
        "x": {"field": "year", "type": "quantitative",
          "axis": {"orient": "bottom", "title": null, "values": [2010, 2011, 2012, 2013, 2014, 2015, 2016], "labels": false, "ticks": true, "tickSize": 13, "domain": false, "grid": false}},
        "y": {"field": "value", "type": "quantitative"},
        "color": {"datum": "OVX", "type": "nominal"}
      }
    },
    {
      "data": {"name": "vstoxx"},
      "mark": {"type": "line", "strokeWidth": 1.2, "clip": true},
      "encoding": {
        "x": {"field": "year", "type": "quantitative",
          "axis": {"orient": "bottom", "title": null, "values": [2009.5, 2009.5833, 2009.6667, 2009.75, 2009.8333, 2009.9167, 2010, 2010.0833, 2010.1667, 2010.25, 2010.3333, 2010.4167, 2010.5, 2010.5833, 2010.6667, 2010.75, 2010.8333, 2010.9167, 2011, 2011.0833, 2011.1667, 2011.25, 2011.3333, 2011.4167, 2011.5, 2011.5833, 2011.6667, 2011.75, 2011.8333, 2011.9167, 2012, 2012.0833, 2012.1667, 2012.25, 2012.3333, 2012.4167, 2012.5, 2012.5833, 2012.6667, 2012.75, 2012.8333, 2012.9167, 2013, 2013.0833, 2013.1667, 2013.25, 2013.3333, 2013.4167, 2013.5, 2013.5833, 2013.6667, 2013.75, 2013.8333, 2013.9167, 2014, 2014.0833, 2014.1667, 2014.25, 2014.3333, 2014.4167, 2014.5, 2014.5833, 2014.6667, 2014.75, 2014.8333, 2014.9167, 2015, 2015.0833, 2015.1667, 2015.25, 2015.3333, 2015.4167, 2015.5, 2015.5833, 2015.6667, 2015.75, 2015.8333, 2015.9167, 2016, 2016.0833, 2016.1667, 2016.25, 2016.3333, 2016.4167, 2016.5, 2016.5833, 2016.6667, 2016.75, 2016.8333, 2016.9167], "labels": false, "ticks": true, "tickSize": 8, "domain": false, "grid": false}},
        "y": {"field": "value", "type": "quantitative"},
        "color": {"datum": "VSTOXX", "type": "nominal"}
      }
    }
  ],
  "resolve": {"axis": {"x": "independent"}}
}
